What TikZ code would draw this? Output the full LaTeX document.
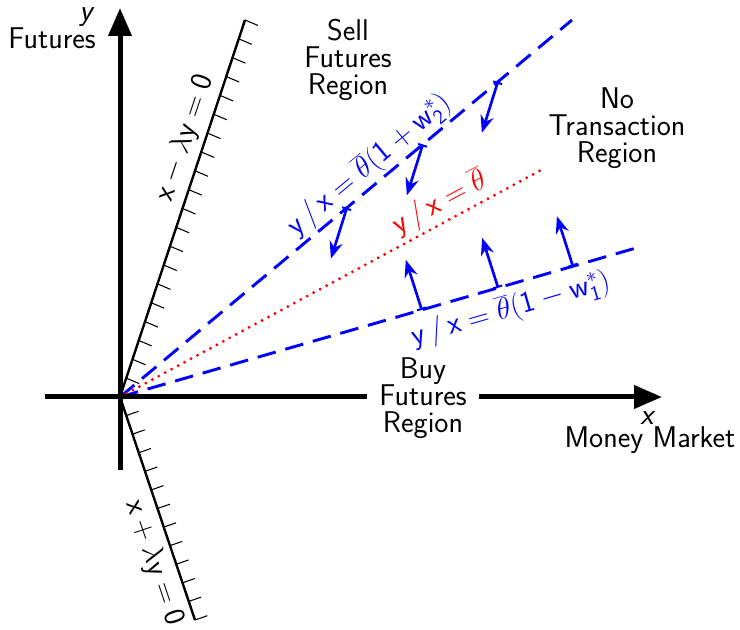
\RequirePackage{fix-cm}
\documentclass[tikz,border=0pt]{standalone}
\usepackage{fontspec}
\usetikzlibrary{arrows.meta,calc}
\begin{document}
\begin{tikzpicture}[x=0.75pt,y=-0.75pt,
  font=\sffamily\fontsize{22.5}{20.5}\selectfont,
  axisline/.style={line width=3.75pt,-{Triangle[length=21pt,width=17pt]}},
  boundline/.style={line width=1.8pt,black},
  tickline/.style={line width=0.8pt,black},
  bluedash/.style={blue,line width=2.2pt,dash pattern=on 14pt off 7.5pt},
  reddot/.style={red,line width=2.4pt,line cap=round,dash pattern=on 0pt off 5.5pt},
  movearrow/.style={blue,line width=2pt,{Bar[width=7pt,line width=1.5pt]}-{Stealth[length=13pt,width=10pt]}},
  regionlabel/.style={align=center,inner sep=1pt},
  bluelabel/.style={blue,inner sep=1pt},
]
\useasboundingbox (0,0) rectangle (740,630);

% key coordinates
\coordinate (O) at (120,397);
\coordinate (Ytop) at (120,8);
\coordinate (Ybot) at (120,470);
\coordinate (Xleft) at (45,397);
\coordinate (Xright) at (662,397);
\coordinate (Sup) at (245,20);
\coordinate (Sdn) at (195,620);
\coordinate (U) at (572,20);
\coordinate (R) at (545,168);
\coordinate (L) at (643,246);

% boundary lines with hatch ticks
\draw[boundline] (O) -- (Sup);
\foreach \t in {1,...,20}{
  \draw[tickline] ($(O)!\t/20!(Sup)$) -- ++(13,5.5);
}
\draw[boundline] (O) -- (Sdn);
\foreach \t in {1,...,12}{
  \draw[tickline] ($(O)!\t/12!(Sdn)$) -- ++(12.3,-4.3);
}

% dashed and dotted rays
\draw[bluedash] (O) -- (U);
\draw[bluedash] (O) -- (L);
\draw[reddot] (O) -- (R);

% axes
\draw[axisline] (Ybot) -- (Ytop);
\draw[axisline] (Xleft) -- (Xright);

% movement arrows
\coordinate (a1) at ($(O)!0.836!(U)$);
\coordinate (a2) at ($(O)!0.670!(U)$);
\coordinate (a3) at ($(O)!0.502!(U)$);
\coordinate (b1) at ($(O)!0.577!(L)$);
\coordinate (b2) at ($(O)!0.723!(L)$);
\coordinate (b3) at ($(O)!0.866!(L)$);
\coordinate (a1e) at ($(a1)+(-16,51)$);
\coordinate (a2e) at ($(a2)+(-16,51)$);
\coordinate (a3e) at ($(a3)+(-16,51)$);
\coordinate (b1e) at ($(b1)+(-16,-50)$);
\coordinate (b2e) at ($(b2)+(-16,-50)$);
\coordinate (b3e) at ($(b3)+(-16,-50)$);
\foreach \s/\e in {a1/a1e,a2/a2e,a3/a3e,b1/b1e,b2/b2e,b3/b3e}{
  \draw[movearrow] (\s) -- (\e);
}

% axis labels
\node[inner sep=0pt] (ylab) at (87,17) {\textit{y}};
\node[inner sep=0pt] (ytext) at (52,38) {Futures};
\node[inner sep=0pt] (xlab) at (648,418) {\textit{x}};
\node[inner sep=0pt] (xtext) at (650,440) {Money Market};

% region labels
\node[regionlabel] (sell) at (348,60) {Sell\\Futures\\Region};
\node[regionlabel] (notr) at (617,128) {No\\Transaction\\Region};
\node[regionlabel,fill=white,inner xsep=9pt,inner ysep=0pt] (buy) at (423,398) {Buy\\Futures\\Region};

% line labels
\node[rotate=71.6,inner sep=1pt] (lup) at (185,138) {$\mathsf{x}-\lambda\mathsf{y}=\mathsf{0}$};
\node[rotate=-71.4,inner sep=1pt] (ldn) at (154,563) {$\mathsf{x}+\lambda\mathsf{y}=\mathsf{0}$};
\node[bluelabel,rotate=39.8] (lblup) at (369,165) {$\mathsf{y}\,/\,\mathsf{x}=\overline{\theta}(\mathsf{1}+\mathsf{w}_{\mathsf{2}}^{*})$};
\node[bluelabel,rotate=16.1] (lbldn) at (511,309) {$\mathsf{y}\,/\,\mathsf{x}=\overline{\theta}(\mathsf{1}-\mathsf{w}_{\mathsf{1}}^{*})$};
\node[red,inner sep=1pt,rotate=28.3] (lblred) at (440,203) {$\mathsf{y}\,/\,\mathsf{x}=\overline{\theta}$};
\end{tikzpicture}
\end{document}
